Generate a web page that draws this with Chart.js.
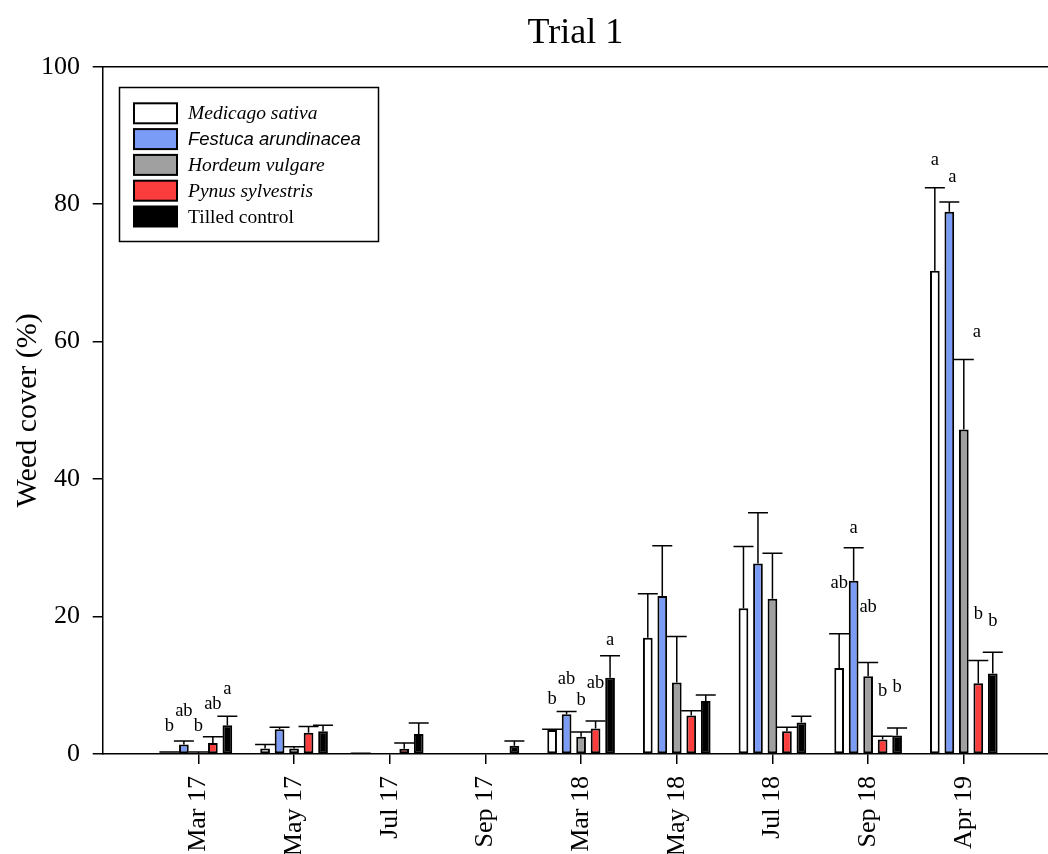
<!DOCTYPE html>
<html>
<head>
<meta charset="utf-8">
<script src="https://cdn.jsdelivr.net/npm/chart.js@4"></script>
<style>
  html, body { margin: 0; padding: 0; background: #fff; overflow: hidden; }
  canvas { display: block; }
</style>
</head>
<body>
<canvas id="trial1" width="1048" height="854"></canvas>
<script>
const serif = "'Liberation Serif', 'Times New Roman', serif";
const sans = "'Liberation Sans', Arial, sans-serif";

const dates = ["Mar 17", "May 17", "Jul 17", "Sep 17", "Mar 18", "May 18", "Jul 18", "Sep 18", "Apr 19"];
const yTicks = [0, 20, 40, 60, 80, 100];

// weed cover (%) and standard error per sampling date
const medicago = [0.2, 0.8, 0, 0, 3.5, 16.9, 21.2, 12.5, 70.3];
const medicagoErr = [0.1, 0.6, 0.1, 0, 0.1, 6.4, 9.0, 5.0, 12.1];
const festuca = [1.4, 3.6, 0, 0, 5.8, 23.0, 27.7, 25.2, 78.9];
const festucaErr = [0.5, 0.3, 0, 0, 0.4, 7.3, 7.4, 4.8, 1.4];
const hordeum = [0.1, 0.8, 0, 0, 2.5, 10.4, 22.6, 11.3, 47.2];
const hordeumErr = [0.2, 0.25, 0, 0, 0.7, 6.7, 6.6, 2.0, 10.2];
const pynus = [1.6, 3.1, 0.75, 0, 3.7, 5.6, 3.3, 2.1, 10.3];
const pynusErr = [0.9, 0.9, 0.85, 0, 1.1, 0.7, 0.6, 0.5, 3.3];
const tilled = [4.2, 3.3, 2.9, 1.2, 11.1, 7.7, 4.6, 2.7, 11.7];
const tilledErr = [1.3, 0.9, 1.6, 0.7, 3.2, 0.9, 0.9, 1.1, 3.1];

// significance letters: [date index, series index, letter, height (%), shift px]
const letters = [
  [0, 0, "b", 4.0], [0, 1, "ab", 6.2], [0, 2, "b", 4.0], [0, 3, "ab", 7.2], [0, 4, "a", 9.5],
  [4, 0, "b", 8.0], [4, 1, "ab", 10.9], [4, 2, "b", 7.9], [4, 3, "ab", 10.3], [4, 4, "a", 16.5],
  [7, 0, "ab", 24.9], [7, 1, "a", 32.9], [7, 2, "ab", 21.4], [7, 3, "b", 9.1], [7, 4, "b", 9.7],
  [8, 0, "a", 86.4], [8, 1, "a", 84.0, 3], [8, 2, "a", 61.4, 13], [8, 3, "b", 20.4], [8, 4, "b", 19.3],
];

const series = [
  { label: "Medicago sativa", values: medicago, err: medicagoErr, color: "#ffffff", font: "italic 19.5px " + serif },
  { label: "Festuca arundinacea", values: festuca, err: festucaErr, color: "#7b9cf6", font: "italic 18.5px " + sans },
  { label: "Hordeum vulgare", values: hordeum, err: hordeumErr, color: "#a0a0a0", font: "italic 19.5px " + serif },
  { label: "Pynus sylvestris", values: pynus, err: pynusErr, color: "#fb3d3d", font: "italic 19.5px " + serif },
  { label: "Tilled control", values: tilled, err: tilledErr, color: "#000000", font: "19.5px " + serif },
];

const errorBars = {
  id: "errorBars",
  afterDatasetsDraw(chart) {
    const ctx = chart.ctx;
    const y = chart.scales.y;
    ctx.save();
    ctx.strokeStyle = "#000";
    ctx.lineWidth = 1.5;
    chart.data.datasets.forEach((ds, di) => {
      const meta = chart.getDatasetMeta(di);
      meta.data.forEach((bar, i) => {
        const e = ds.errors[i];
        if (!e) return;
        const top = y.getPixelForValue(ds.data[i].y + e);
        ctx.beginPath();
        ctx.moveTo(bar.x, bar.y);
        ctx.lineTo(bar.x, top);
        ctx.moveTo(bar.x - 10, top);
        ctx.lineTo(bar.x + 10, top);
        ctx.stroke();
      });
    });
    ctx.restore();
  },
};

const annotations = {
  id: "annotations",
  afterDraw(chart) {
    const ctx = chart.ctx;
    const area = chart.chartArea;
    const y = chart.scales.y;
    ctx.save();

    // top frame line
    ctx.strokeStyle = "#000";
    ctx.lineWidth = 1.5;
    ctx.beginPath();
    ctx.moveTo(area.left, area.top);
    ctx.lineTo(area.right, area.top);
    ctx.stroke();

    // letters above the bars
    ctx.fillStyle = "#000";
    ctx.font = "18.5px " + serif;
    ctx.textAlign = "center";
    ctx.textBaseline = "middle";
    letters.forEach(([d, s, txt, h, shift]) => {
      const bar = chart.getDatasetMeta(s).data[d];
      ctx.fillText(txt, bar.x + (shift || 0), y.getPixelForValue(h));
    });

    // legend box
    const lx = 119.5, ly = 87.5, lw = 259, lh = 154;
    ctx.lineWidth = 1.5;
    ctx.strokeRect(lx, ly, lw, lh);
    ctx.textAlign = "left";
    series.forEach((s, i) => {
      const cy = 113.3 + i * 25.8;
      ctx.fillStyle = s.color;
      ctx.fillRect(134, cy - 10, 43, 20);
      ctx.lineWidth = 2;
      ctx.strokeStyle = "#000";
      ctx.strokeRect(134, cy - 10, 43, 20);
      ctx.fillStyle = "#000";
      ctx.font = s.font;
      ctx.fillText(s.label, 188, cy + 1);
    });
    ctx.restore();
  },
};

new Chart(document.getElementById("trial1"), {
  type: "bar",
  data: {
    datasets: series.map((s) => ({
      label: s.label,
      data: s.values.map((v, i) => ({ x: i + 1, y: v })),
      errors: s.err,
      backgroundColor: s.color,
      borderColor: "#000",
      borderWidth: 2,
      borderSkipped: false,
      categoryPercentage: 0.757,
      barPercentage: 0.67,
    })),
  },
  options: {
    responsive: false,
    animation: false,
    events: [],
    layout: { padding: 0 },
    plugins: {
      legend: { display: false },
      tooltip: { enabled: false },
      title: {
        display: true,
        text: "Trial 1",
        fullSize: false,
        color: "#000",
        font: { family: serif, size: 36, weight: "normal", lineHeight: 1.2 },
        padding: { top: 12, bottom: 11.5 },
      },
    },
    scales: {
      x: {
        type: "linear",
        offset: false,
        min: 0,
        max: 9.88,
        afterBuildTicks: (scale) => {
          scale.ticks = dates.map((d, i) => ({ value: i + 1 }));
        },
        afterFit: (scale) => {
          scale.height = 100;
        },
        ticks: {
          autoSkip: false,
          minRotation: 90,
          maxRotation: 90,
          padding: 12,
          color: "#000",
          font: { family: serif, size: 26 },
          callback: (v) => dates[v - 1],
        },
        grid: {
          offset: false,
          drawOnChartArea: false,
          tickLength: 10,
          color: "#000",
          lineWidth: 1.5,
        },
        border: { color: "#000", width: 1.5 },
      },
      y: {
        min: 0,
        max: 100,
        afterBuildTicks: (scale) => {
          scale.ticks = yTicks.map((v) => ({ value: v }));
        },
        afterFit: (scale) => {
          scale.width = 102.7;
        },
        ticks: {
          padding: 12.7,
          color: "#000",
          font: { family: serif, size: 26 },
        },
        grid: {
          drawOnChartArea: false,
          tickLength: 10,
          color: "#000",
          lineWidth: 1.5,
        },
        border: { color: "#000", width: 1.5 },
        title: {
          display: true,
          text: "Weed cover (%)",
          color: "#000",
          font: { family: serif, size: 30 },
          padding: { top: 10, bottom: 0 },
        },
      },
    },
  },
  plugins: [errorBars, annotations],
});
</script>
</body>
</html>
